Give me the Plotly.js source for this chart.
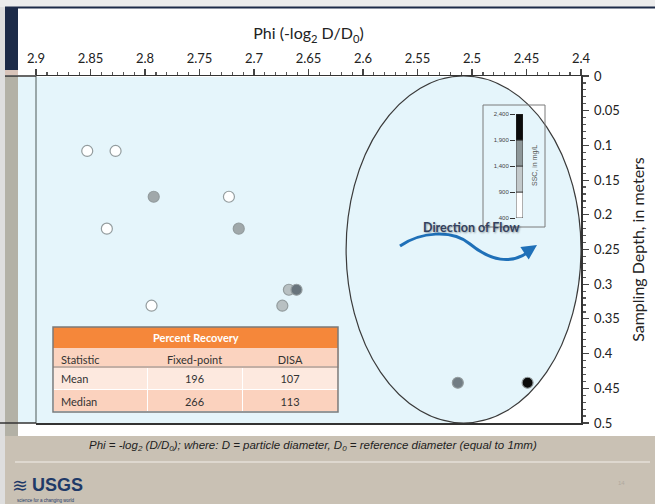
<!DOCTYPE html>
<html><head><meta charset="utf-8">
<script src="https://cdn.plot.ly/plotly-3.0.1.min.js"></script>
<style>html,body{margin:0;padding:0;background:#fff;} #chart{width:655px;height:504px;}</style>
</head><body><div id="chart"></div>
<script>
// ---- data ----
const phi   = [2.853, 2.827, 2.792, 2.723, 2.835, 2.714, 2.668, 2.661, 2.794, 2.674, 2.513, 2.449];
const depth = [0.108, 0.108, 0.174, 0.174, 0.220, 0.220, 0.308, 0.308, 0.331, 0.331, 0.442, 0.442];
const ssc   = [650, 650, 1420, 650, 650, 1420, 1150, 1880, 650, 1150, 1800, 2200];
const sscBins = [400, 900, 1400, 1900, 2400];
const sscBinColors = ['#ffffff', '#c3c9cb', '#8e9799', '#0b0b0b'];
const tableTitle = 'Percent Recovery';
const tableHeader = ['Statistic', 'Fixed-point', 'DISA'];
const tableStat = ['Mean', 'Median'];
const tableFixed = [196, 266];
const tableDisa = [107, 113];

// ---- pixel -> paper helpers (decorations only) ----
const L = 36, R = 581, T = 76, B = 423;
const px = x => (x - L) / (R - L);
const py = y => (B - y) / (B - T);
const rect = (x0, y0, x1, y1, fill, extra) => Object.assign({type:'rect', xref:'paper', yref:'paper',
  x0:px(x0), x1:px(x1), y0:py(y1), y1:py(y0), fillcolor:fill, line:{width:0}, layer:'below'}, extra || {});
const hline = (x0, x1, y, color, w, layer) => ({type:'line', xref:'paper', yref:'paper',
  x0:px(x0), x1:px(x1), y0:py(y), y1:py(y), line:{color:color, width:w}, layer:layer || 'below'});
const vline = (x, y0, y1, color, w, layer) => ({type:'line', xref:'paper', yref:'paper',
  x0:px(x), x1:px(x), y0:py(y0), y1:py(y1), line:{color:color, width:w}, layer:layer || 'below'});
function pathPx(cmds) {
  return cmds.map(c => {
    const pts = [];
    for (let i = 1; i < c.length; i += 2) pts.push(px(c[i]).toFixed(5) + ',' + py(c[i + 1]).toFixed(5));
    return c[0] + ' ' + pts.join(' ');
  }).join(' ');
}
const note = (x, y, text, f, extra) => Object.assign({xref:'paper', yref:'paper', x:px(x), y:py(y),
  text:text, showarrow:false, xanchor:'center', yanchor:'middle', font:f}, extra || {});

const blue = '#e5f5fb';
const font = 'Lato, "Open Sans", sans-serif';
const arial = 'Liberation Sans, Arial, sans-serif';

// colour scale for the points built from SSC bins
const pointScale = [[0,'#ffffff'],[0.25,'#ffffff'],[0.25,'#b8c0c2'],[0.5,'#b8c0c2'],
                    [0.5,'#a2aaac'],[0.75,'#66727a'],[0.75,'#0b0b0b'],[1,'#0b0b0b']];

const rowFill = ['#fde9df', '#fbd2be'];
const traces = [
  {type:'scatter', mode:'markers', x:phi, y:depth, xaxis:'x', yaxis:'y', hoverinfo:'skip',
   cliponaxis:false,
   marker:{size:11, color:ssc, colorscale:pointScale, cmin:400, cmax:2400, showscale:false,
           line:{color:'#939c9e', width:1.2}}},
  {type:'bar', xaxis:'x2', yaxis:'y2', x:[0,0,0,0], width:1, hoverinfo:'skip',
   base: sscBins.slice(0, 4), y: sscBins.slice(1).map((v, i) => v - sscBins[i]),
   marker:{color:sscBinColors, line:{color:'#333', width:0.8}}},
  {type:'table', domain:{x:[px(53), px(338)], y:[py(412), py(348)]},
   columnwidth:[94, 95, 96],
   header:{values:tableHeader, height:19, align:['left','center','center'],
           fill:{color:'#fbd3bf'}, line:{color:'#fbd3bf', width:1},
           font:{family:font, size:11, color:'#333'}},
   cells:{values:[tableStat, tableFixed, tableDisa], height:22.5, align:['left','center','center'],
          fill:{color:[rowFill, rowFill, rowFill]},
          line:{color:'#ffffff', width:1},
          font:{family:font, size:11, color:'#333'}}}
];

const shapes = [
  rect(0, 436, 655, 504, '#c9c1b4'),
  rect(0, 0, 655, 7, '#ececec'),
  rect(0, 7, 5, 504, '#dedede'),
  rect(5, 6.5, 655, 8.5, '#1d2b48'),
  rect(5, 8, 18, 70, '#1d2b48'),
  rect(5, 70, 18, 75, '#d8c4ba'),
  rect(5, 76, 18, 436, '#b3b1a6'),
  rect(18, 77, 463, 423, blue),
  {type:'circle', xref:'x', yref:'y', x0:2.6155, x1:2.4, y0:0.0, y1:0.5,
   fillcolor:blue, line:{color:'#3a3a3a', width:1.2}, layer:'below'},
  vline(36, 76, 423, '#7f8c8e', 1.5),
  hline(5, 36, 76, '#333', 1.5),
  hline(0, 36, 423, '#333', 1.5),
  hline(15, 650, 462, '#e4dfd8', 1.5),
  // SSC legend box
  {type:'rect', xref:'paper', yref:'paper', x0:px(483), x1:px(545), y0:py(227), y1:py(105),
   line:{color:'#7a7a7a', width:1}, fillcolor:'rgba(0,0,0,0)', layer:'above'},
  // table title bar and frame
  rect(53, 327, 338, 348, '#f5873a', {layer:'above'}),
  hline(53, 338, 367, '#8a8a8a', 1.2, 'above'),
  {type:'rect', xref:'paper', yref:'paper', x0:px(53), x1:px(338), y0:py(412), y1:py(327),
   line:{color:'#7a7a7a', width:1.5}, fillcolor:'rgba(0,0,0,0)', layer:'above'},
  // wavy flow arrow
  {type:'path', xref:'paper', yref:'paper', layer:'above',
   path: pathPx([['M',400,246],['C',420,232,452,229,470,244],['S',512,268,533,248]]),
   line:{color:'#1f70b8', width:3}}
];

const annotations = [
  note(471, 227, '<b>Direction of Flow</b>', {family:font, size:12.5, color:'#33415e', shadow:'1px 1px 2px rgba(0,0,0,0.35)'}),
  {xref:'paper', yref:'paper', x:px(537), y:py(245), ax:-9, ay:6, text:'', showarrow:true,
   arrowhead:2, arrowsize:1, arrowwidth:3, arrowcolor:'#1f70b8'},
  note(535, 166, 'SSC, in mg/L', {family:arial, size:7, color:'#555'}, {textangle:-90}),
  note(195.5, 337.5, '<b>' + tableTitle + '</b>', {family:font, size:11, color:'#ffffff'}),
  note(313, 446, '<i>Phi = -log<sub>2</sub> (D/D<sub>0</sub>); where: D = particle diameter, D<sub>0</sub> = reference diameter (equal to 1mm)</i>',
       {family:arial, size:11.5, color:'#1e1e1e'}),
  note(20, 485, '≋', {family:'DejaVu Sans', size:19, color:'#1f3a68'}),
  note(57, 485, '<b>USGS</b>', {family:arial, size:18, color:'#1f3a68'}),
  note(46, 500, 'science for a changing world', {family:arial, size:4.5, color:'#1f3a68'}),
  note(621, 483, '14', {family:arial, size:6, color:'#b0a99e'})
];

const layout = {
  width:655, height:504, margin:{l:L, r:655-R, t:T, b:504-B},
  paper_bgcolor:'#ffffff', plot_bgcolor:'rgba(0,0,0,0)', showlegend:false,
  font:{family:font, color:'#222'},
  xaxis:{range:[2.9, 2.4], side:'top', anchor:'y', dtick:0.05, ticks:'outside', ticklen:6,
         tickwidth:1.2, tickcolor:'#444', minor:{dtick:0.01, ticks:'outside', ticklen:3, tickcolor:'#555'},
         showline:true, mirror:true, linecolor:'#333', linewidth:1.5, showgrid:false, zeroline:false,
         tickfont:{family:font, size:13, color:'#222'},
         title:{text:'Phi (-log<sub>2</sub> D/D<sub>0</sub>)', font:{family:font, size:16, color:'#222'}, standoff:6}},
  yaxis:{range:[0.5, 0], side:'right', anchor:'x', dtick:0.05, ticks:'outside', ticklen:6,
         tickwidth:1.2, tickcolor:'#444', minor:{dtick:0.01, ticks:'outside', ticklen:3, tickcolor:'#555'},
         showline:true, linecolor:'#333', linewidth:1.5, showgrid:false, zeroline:false,
         ticklabelstandoff:3,
         tickfont:{family:font, size:13, color:'#222'},
         title:{text:'Sampling Depth, in meters', font:{family:font, size:16, color:'#222'}, standoff:14}},
  xaxis2:{domain:[px(516), px(523)], anchor:'y2', visible:false, range:[-0.5, 0.5], fixedrange:true},
  yaxis2:{domain:[py(218), py(114)], anchor:'x2', range:[400, 2400], side:'left',
          tickvals:sscBins, ticktext:sscBins.map(v => v.toLocaleString('en-US')),
          ticks:'outside', ticklen:5, tickcolor:'#333', showgrid:false, zeroline:false, showline:false,
          tickfont:{family:arial, size:6, color:'#444'}, fixedrange:true},
  shapes:shapes, annotations:annotations
};

Plotly.newPlot('chart', traces, layout, {displayModeBar:false, staticPlot:true});
</script></body></html>
